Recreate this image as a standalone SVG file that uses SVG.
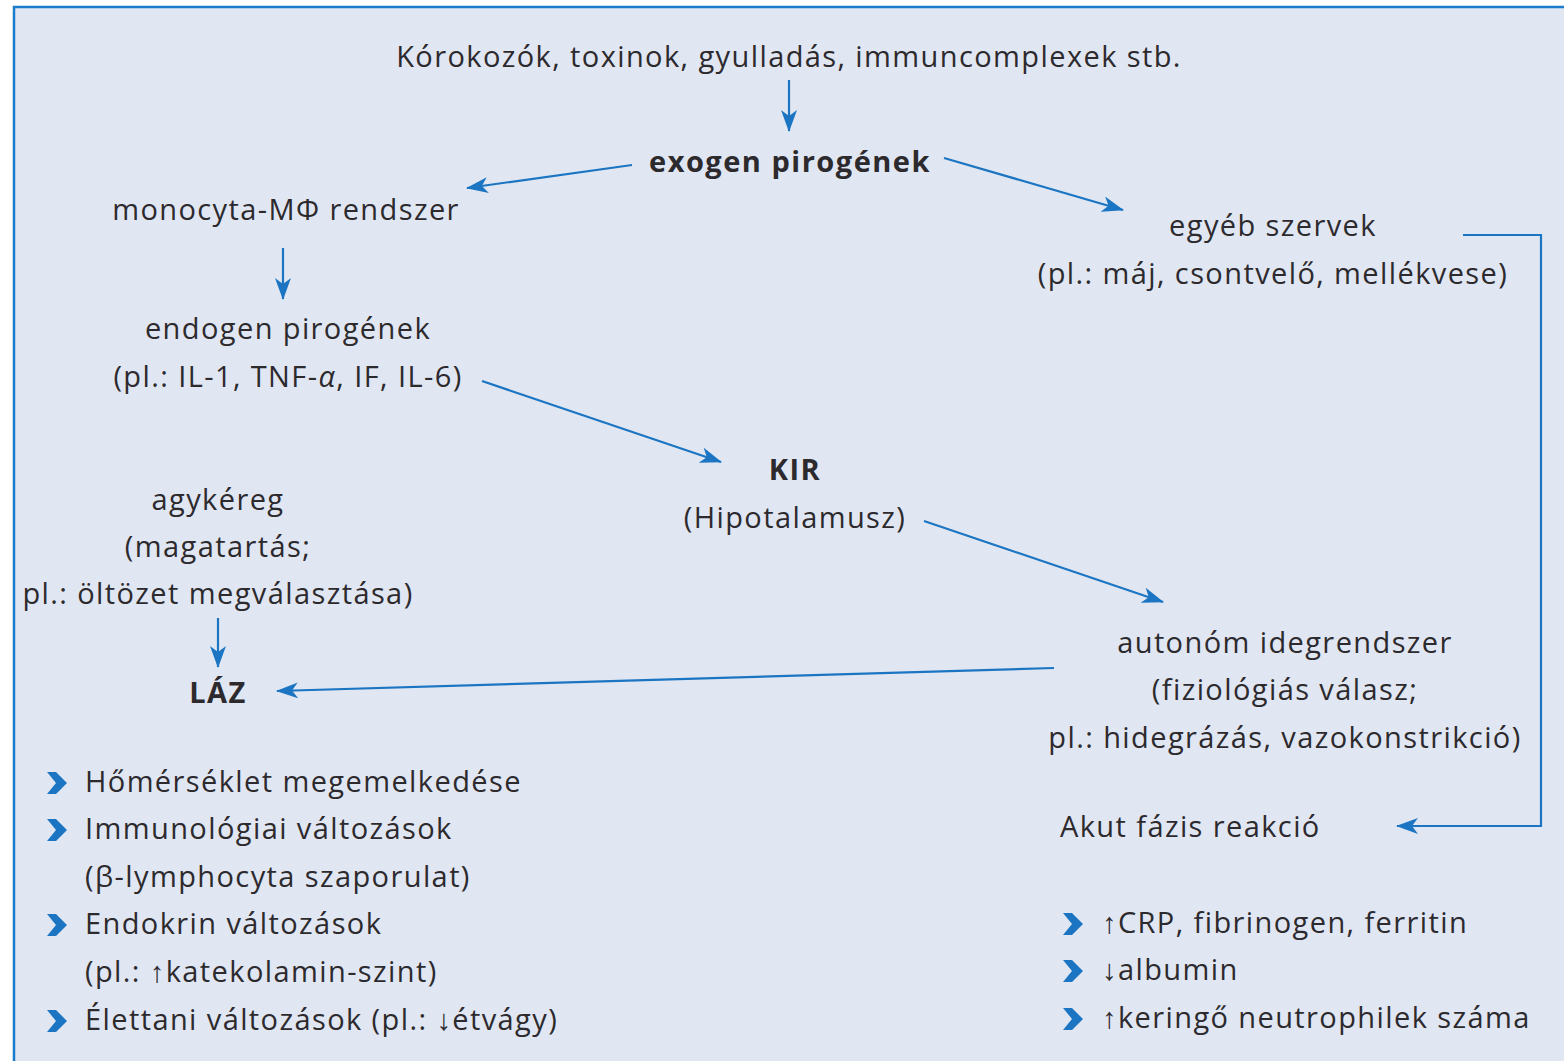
<svg xmlns="http://www.w3.org/2000/svg" width="1564" height="1061" viewBox="0 0 1564 1061">
<defs>
<marker id="ah" viewBox="0 0 22 16" markerWidth="22" markerHeight="16" refX="21" refY="8" orient="auto" markerUnits="userSpaceOnUse">
<path d="M0,0 L22,8 L0,16 L6,8 Z" fill="#1b75c2"/>
</marker>
<path id="chev" d="M0,0 L9,0 L20,11 L9,22 L0,22 L9,11 Z" fill="#1b75c2"/>
</defs>
<style>
text{font-family:"Open Sans","Noto Sans",sans-serif;font-size:29px;letter-spacing:1.4px;fill:#2d2a2e;}
.c{text-anchor:middle;}
.b{font-weight:bold;letter-spacing:1.5px;}
.ln{fill:none;stroke:#1b75c2;stroke-width:2.2;}
</style>
<rect x="0" y="0" width="1564" height="1061" fill="#ffffff"/>
<rect x="14" y="7" width="1570" height="1080" fill="#e0e7f3" stroke="#1b7ccb" stroke-width="2.5"/>
<g id="connectors">
<line class="ln" x1="789" y1="80" x2="789" y2="131" marker-end="url(#ah)"/>
<line class="ln" x1="632" y1="165" x2="467" y2="188" marker-end="url(#ah)"/>
<line class="ln" x1="944" y1="158" x2="1123" y2="210" marker-end="url(#ah)"/>
<line class="ln" x1="283" y1="248" x2="283" y2="299" marker-end="url(#ah)"/>
<line class="ln" x1="482" y1="381" x2="721" y2="462" marker-end="url(#ah)"/>
<line class="ln" x1="924" y1="521" x2="1163" y2="602" marker-end="url(#ah)"/>
<line class="ln" x1="218" y1="618" x2="218" y2="667" marker-end="url(#ah)"/>
<line class="ln" x1="1054" y1="668" x2="277" y2="691" marker-end="url(#ah)"/>
<polyline class="ln" points="1463,235 1541,235 1541,826 1397,826" marker-end="url(#ah)"/>
</g>
<g id="n_korokozok"><text class="c" x="789" y="67">Kórokozók, toxinok, gyulladás, immuncomplexek stb.</text></g>
<g id="n_exogen"><text class="c b" x="790" y="172">exogen pirogének</text></g>
<g id="n_monocyta"><text class="c" x="286" y="220">monocyta-MΦ rendszer</text></g>
<g id="n_egyeb"><text class="c" x="1273" y="236">egyéb szervek</text><text class="c" x="1273" y="284">(pl.: máj, csontvelő, mellékvese)</text></g>
<g id="n_endogen"><text class="c" x="288" y="339">endogen pirogének</text><text class="c" x="288" y="387">(pl.: IL-1, TNF-<tspan font-style="italic">α</tspan>, IF, IL-6)</text></g>
<g id="n_kir"><text class="c b" x="795" y="480">KIR</text><text class="c" x="795" y="528">(Hipotalamusz)</text></g>
<g id="n_agykereg"><text class="c" x="218" y="510">agykéreg</text><text class="c" x="218" y="557">(magatartás;</text><text class="c" x="218" y="604">pl.: öltözet megválasztása)</text></g>
<g id="n_laz"><text class="c b" x="218" y="703">LÁZ</text></g>
<g id="n_autonom"><text class="c" x="1285" y="653">autonóm idegrendszer</text><text class="c" x="1285" y="700">(fiziológiás válasz;</text><text class="c" x="1285" y="748">pl.: hidegrázás, vazokonstrikció)</text></g>
<g id="n_akut"><text x="1060" y="837">Akut fázis reakció</text></g>
<g id="n_laz_list">
<use href="#chev" x="47" y="772"/><text x="85" y="792">Hőmérséklet megemelkedése</text>
<use href="#chev" x="47" y="819"/><text x="85" y="839">Immunológiai változások</text>
<text x="85" y="887">(β-lymphocyta szaporulat)</text>
<use href="#chev" x="47" y="914"/><text x="85" y="934">Endokrin változások</text>
<text x="85" y="982">(pl.: ↑katekolamin-szint)</text>
<use href="#chev" x="47" y="1010"/><text x="85" y="1030">Élettani változások (pl.: ↓étvágy)</text>
</g>
<g id="n_akut_list">
<use href="#chev" x="1063" y="913"/><text x="1102" y="933">↑CRP, fibrinogen, ferritin</text>
<use href="#chev" x="1063" y="960"/><text x="1102" y="980">↓albumin</text>
<use href="#chev" x="1063" y="1008"/><text x="1102" y="1028">↑keringő neutrophilek száma</text>
</g>
</svg>
